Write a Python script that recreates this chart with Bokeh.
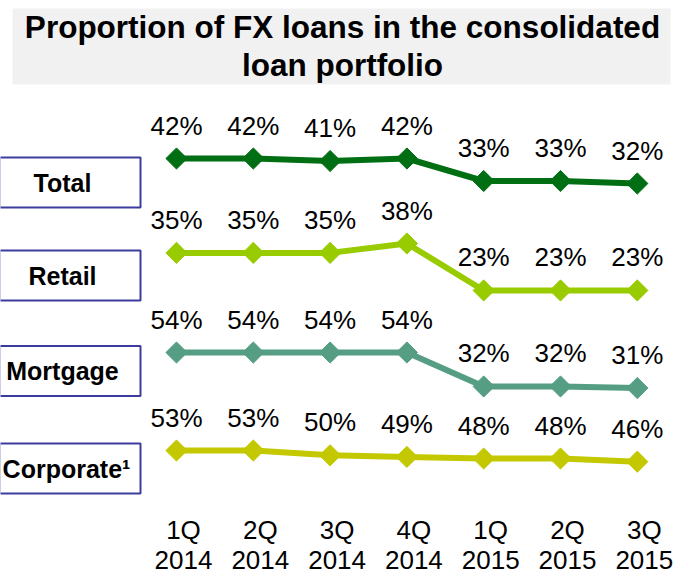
from bokeh.plotting import figure
from bokeh.models import Range1d
from bokeh.embed import file_html
from bokeh.resources import INLINE
from bokeh.core.properties import value
import math

# ---------------- data ----------------
quarter_labels = ["1Q", "2Q", "3Q", "4Q", "1Q", "2Q", "3Q"]
year_labels = ["2014", "2014", "2014", "2014", "2015", "2015", "2015"]
series_names = ["Total", "Retail", "Mortgage", "Corporate\u00b9"]
total = [42, 42, 41, 42, 33, 33, 32]
retail = [35, 35, 35, 38, 23, 23, 23]
mortgage = [54, 54, 54, 54, 32, 32, 31]
corporate = [53, 53, 50, 49, 48, 48, 46]
series_values = [total, retail, mortgage, corporate]
colors = ["#006F14", "#99CC00", "#559E83", "#C3C800"]
title_lines = ["Proportion of FX loans in the consolidated", "loan portfolio"]

# ---------------- layout (canvas px) ----------------
W, H = 693, 576
X0, DX = 176.0, 76.8   # canvas x of first quarter, spacing between quarters

def y_range_for(anchor_val, anchor_px, px_per_unit):
    # each series gets its own vertical band / scale
    start = anchor_val - (H - anchor_px) / px_per_unit
    end = anchor_val + anchor_px / px_per_unit
    return Range1d(start=start, end=end)

scales = [(42, 158, 2.5), (38, 243, 3.13), (54, 352, 1.545), (53, 450, 1.6)]
range_names = ["total", "retail", "mortgage", "corporate"]

p = figure(width=W, height=H, output_backend="svg", toolbar_location=None,
           x_range=Range1d(-X0 / DX, (W - X0) / DX), y_range=Range1d(0, 1),
           x_axis_type=None, y_axis_type=None, min_border=0,
           outline_line_color=None, background_fill_color="white",
           border_fill_color="white")
p.title = None
p.grid.visible = False

for nm, sc in zip(range_names, scales):
    p.extra_y_ranges[nm] = y_range_for(*sc)
# canvas-pixel ranges for decorations (title box, label boxes, tick rows)
p.extra_y_ranges["page"] = Range1d(start=H, end=0)
p.extra_x_ranges["page"] = Range1d(start=0, end=W)

# title box
p.quad(left=[12], right=[670], top=[8], bottom=[84], fill_color="#F1F1F1",
       line_color=None, x_range_name="page", y_range_name="page")
p.text([342, 342], [26, 64], text=title_lines, text_align="center",
       text_baseline="middle", text_font=value("Liberation Sans"),
       text_font_size="31.5px", text_font_style="bold", text_color="black",
       x_range_name="page", y_range_name="page")

xs = list(range(len(quarter_labels)))
for vals, col, nm in zip(series_values, colors, range_names):
    p.line(xs, vals, line_width=6, line_color=col, y_range_name=nm)
    p.scatter(xs, vals, marker="square", size=15, angle=math.pi / 4,
              fill_color=col, line_color=col, y_range_name=nm)
    p.text(xs, vals, text=[f"{v}%" for v in vals], text_align="center",
           text_baseline="middle", y_offset=-33,
           text_font=value("Liberation Sans"), text_font_size="26px",
           text_color="black", y_range_name=nm)

# label boxes
box_y = [182, 275, 370.5, 468]
p.rect([69.5] * 4, box_y, width=141, height=50, width_units="screen",
       height_units="screen", fill_color="white", line_color="#3C3C9E",
       line_width=2, x_range_name="page", y_range_name="page")
p.text([62, 62, 62, 66], box_y, text=series_names, text_align="center",
       text_baseline="middle",
       text_font=value("Liberation Sans"), text_font_size="25px",
       text_font_style="bold", text_color="black",
       x_range_name="page", y_range_name="page")

# category (x) labels, placed through the x scale
for labels, row_y in zip([quarter_labels, year_labels], [529, 559]):
    p.text(xs, [row_y] * len(xs), text=labels, text_align="center",
           text_baseline="middle", x_offset=7,
           text_font=value("Liberation Sans"), text_font_size="26px",
           text_color="black", y_range_name="page")

open("out.html", "w").write(file_html(p, INLINE))
